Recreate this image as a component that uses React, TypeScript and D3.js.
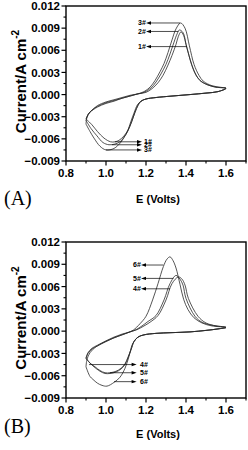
import React from 'react';
import * as d3 from 'd3';

type P = [number, number];

const E_TICKS = [0.8, 1.0, 1.2, 1.4, 1.6];
const E_MINOR = [0.9, 1.1, 1.3, 1.5, 1.7];
const I_TICKS = [-0.009, -0.006, -0.003, 0, 0.003, 0.006, 0.009, 0.012];
const I_MINOR = [-0.0075, -0.0045, -0.0015, 0.0015, 0.0045, 0.0075, 0.0105];

// Panel A
const curveA1: P[] = [
  [0.9, -0.0033], [0.915, -0.0025], [0.935, -0.002], [0.957, -0.0015], [1.0, -0.001], [1.04, -0.0007], [1.08, -0.0004], [1.12, -0.0001], [1.16, 0.0001], [1.2, 0.0003], [1.23, 0.0008], [1.26, 0.0016], [1.285, 0.0026], [1.31, 0.004], [1.33, 0.0053], [1.35, 0.0068], [1.362, 0.0079], [1.375, 0.0085], [1.388, 0.008], [1.4, 0.0068], [1.412, 0.0056], [1.43, 0.0039], [1.45, 0.0026], [1.475, 0.0018], [1.51, 0.0013], [1.55, 0.001], [1.6, 0.00085],
  [1.56, 0.0004], [1.5, 0.0002], [1.42, 0.0], [1.33, -0.0002], [1.25, -0.0004], [1.2, -0.0006], [1.175, -0.0009], [1.16, -0.0015], [1.145, -0.0024], [1.128, -0.0037], [1.11, -0.0048], [1.09, -0.0056], [1.065, -0.0062], [1.045, -0.0064], [1.023, -0.0064], [0.99, -0.0059], [0.957, -0.005], [0.93, -0.0041], [0.9, -0.0033],
];
const curveA2: P[] = [
  [0.9, -0.0035], [0.91, -0.0027], [0.93, -0.0021], [0.957, -0.0016], [1.0, -0.0011], [1.04, -0.0008], [1.08, -0.0005], [1.12, -0.0002], [1.16, 0.0001], [1.19, 0.0003], [1.225, 0.0009], [1.25, 0.0017], [1.275, 0.0028], [1.3, 0.0041], [1.32, 0.0055], [1.34, 0.0071], [1.355, 0.0082], [1.367, 0.00875], [1.385, 0.0084], [1.403, 0.0065], [1.428, 0.0041], [1.45, 0.0027], [1.47, 0.0019], [1.51, 0.0013], [1.55, 0.001], [1.6, 0.00085],
  [1.56, 0.0004], [1.5, 0.0002], [1.42, 0.0], [1.33, -0.0002], [1.25, -0.0004], [1.2, -0.0006], [1.175, -0.0009], [1.16, -0.0014], [1.145, -0.0024], [1.128, -0.0037], [1.11, -0.0049], [1.09, -0.0058], [1.07, -0.0064], [1.045, -0.0067], [1.015, -0.0068], [0.985, -0.0065], [0.955, -0.0056], [0.925, -0.0046], [0.9, -0.0035],
];
const curveA3: P[] = [
  [0.9, -0.004], [0.905, -0.0031], [0.92, -0.0024], [0.957, -0.0017], [1.0, -0.0012], [1.04, -0.0009], [1.08, -0.0005], [1.12, -0.0002], [1.16, 0.0001], [1.19, 0.0004], [1.22, 0.001], [1.245, 0.0019], [1.27, 0.0031], [1.29, 0.0042], [1.31, 0.0057], [1.33, 0.0074], [1.35, 0.0089], [1.373, 0.0097], [1.395, 0.009], [1.417, 0.0066], [1.44, 0.0041], [1.465, 0.0026], [1.487, 0.0018], [1.53, 0.0012], [1.57, 0.001], [1.6, 0.00085],
  [1.56, 0.0004], [1.5, 0.0002], [1.42, 0.0], [1.33, -0.0002], [1.25, -0.0004], [1.2, -0.0006], [1.175, -0.0009], [1.157, -0.0014], [1.14, -0.0025], [1.125, -0.0036], [1.107, -0.005], [1.09, -0.0058], [1.073, -0.0065], [1.04, -0.0073], [1.0, -0.0075], [0.97, -0.007], [0.94, -0.0059], [0.92, -0.005], [0.9, -0.004],
];

// Panel B
const curveB4: P[] = [
  [0.9, -0.0037], [0.91, -0.003], [0.93, -0.0024], [0.957, -0.002], [1.0, -0.0014], [1.04, -0.0009], [1.08, -0.0005], [1.12, -0.0001], [1.155, 0.0002], [1.19, 0.0007], [1.22, 0.0012], [1.26, 0.0021], [1.3, 0.0042], [1.33, 0.0064], [1.362, 0.0073], [1.38, 0.007], [1.395, 0.0062], [1.412, 0.0044], [1.46, 0.002], [1.5, 0.0011], [1.55, 0.0007], [1.6, 0.0005],
  [1.56, 0.0003], [1.5, 0.0001], [1.42, -0.0001], [1.33, -0.0002], [1.25, -0.0003], [1.19, -0.0005], [1.16, -0.0008], [1.14, -0.0014], [1.125, -0.0025], [1.11, -0.0035], [1.095, -0.0044], [1.075, -0.005], [1.05, -0.0054], [1.02, -0.0056], [0.995, -0.0056], [0.97, -0.0053], [0.945, -0.0048], [0.92, -0.0043], [0.9, -0.0037],
];
const curveB5: P[] = [
  [0.9, -0.0036], [0.91, -0.0029], [0.93, -0.0023], [0.957, -0.0019], [1.0, -0.0013], [1.04, -0.0008], [1.08, -0.0004], [1.12, -0.0001], [1.15, 0.0002], [1.18, 0.0007], [1.21, 0.0013], [1.25, 0.0021], [1.29, 0.0042], [1.32, 0.0064], [1.35, 0.0075], [1.37, 0.007], [1.385, 0.0062], [1.4, 0.0044], [1.445, 0.002], [1.48, 0.0012], [1.53, 0.0008], [1.6, 0.0005],
  [1.56, 0.0003], [1.5, 0.0001], [1.42, -0.0001], [1.33, -0.0002], [1.25, -0.0003], [1.19, -0.0005], [1.16, -0.0008], [1.14, -0.0014], [1.125, -0.0025], [1.11, -0.0036], [1.095, -0.0045], [1.075, -0.0051], [1.05, -0.0055], [1.02, -0.0057], [0.995, -0.0057], [0.97, -0.0054], [0.94, -0.0048], [0.92, -0.0043], [0.9, -0.0036],
];
const curveB6: P[] = [
  [0.9, -0.0048], [0.905, -0.0038], [0.92, -0.0029], [0.95, -0.0021], [0.99, -0.0015], [1.04, -0.0009], [1.08, -0.0005], [1.11, -0.0002], [1.137, 0.00015], [1.17, 0.001], [1.2, 0.002], [1.233, 0.0042], [1.26, 0.0064], [1.287, 0.0087], [1.305, 0.0097], [1.32, 0.01], [1.335, 0.0095], [1.35, 0.0085], [1.37, 0.0063], [1.388, 0.0043], [1.41, 0.0029], [1.44, 0.0018], [1.48, 0.0011], [1.53, 0.0007], [1.6, 0.0005],
  [1.56, 0.0003], [1.5, 0.0001], [1.42, -0.0001], [1.33, -0.0002], [1.25, -0.0003], [1.19, -0.0005], [1.16, -0.0008], [1.14, -0.0014], [1.13, -0.0019], [1.115, -0.0034], [1.095, -0.005], [1.07, -0.0062], [1.04, -0.0069], [1.005, -0.0074], [0.98, -0.0073], [0.957, -0.007], [0.935, -0.0065], [0.92, -0.0061], [0.9, -0.0048],
];

type Anno = { label: string; E: number; I: number };
const annoA_up: Anno[] = [
  { label: '3#', E: 1.37, I: 0.0097 },
  { label: '2#', E: 1.362, I: 0.00855 },
  { label: '1#', E: 1.405, I: 0.0065 },
];
const annoA_down: Anno[] = [
  { label: '1#', E: 1.045, I: -0.0064 },
  { label: '2#', E: 1.03, I: -0.0068 },
  { label: '3#', E: 1.0, I: -0.0075 },
];
const annoB_up: Anno[] = [
  { label: '6#', E: 1.287, I: 0.0089 },
  { label: '5#', E: 1.337, I: 0.0071 },
  { label: '4#', E: 1.32, I: 0.0057 },
];
const annoB_down: Anno[] = [
  { label: '4#', E: 0.915, I: -0.0045 },
  { label: '5#', E: 1.02, I: -0.0056 },
  { label: '6#', E: 1.04, I: -0.0068 },
];

const FONT = '"Liberation Sans", Arial, Helvetica, sans-serif';

interface PanelProps {
  top: number;
  bottom: number;
  curves: P[][];
  up: Anno[];
  down: Anno[];
  upText: number;
  upTip: number;
  downTip: number;
  downText: number;
  letter: string;
  letterY: number;
  xTitleY: number;
}

function Panel(p: PanelProps) {
  const x = d3.scaleLinear().domain([0.8, 1.7]).range([66, 246]);
  const y = d3.scaleLinear().domain([-0.009, 0.012]).range([p.bottom, p.top]);
  const line = d3
    .line<P>()
    .x((d) => x(d[0]))
    .y((d) => y(d[1]))
    .curve(d3.curveCatmullRom.alpha(0.5));
  const fmtY = d3.format('.3f');
  const fmtX = d3.format('.1f');
  const x0 = x(0.8);
  const x1 = x(1.7);
  const midY = (p.top + p.bottom) / 2;
  return (
    <g>
      {p.curves.map((c, i) => (
        <path key={i} d={line(c) || ''} fill="none" stroke="#2a2a2a" strokeWidth={0.8} />
      ))}
      <rect x={x0} y={p.top} width={x1 - x0} height={p.bottom - p.top} fill="none" stroke="#000" strokeWidth={1.4} />
      {I_TICKS.map((t) => (
        <g key={'yt' + t}>
          <line x1={x0 - 4.5} x2={x0} y1={y(t)} y2={y(t)} stroke="#000" strokeWidth={1.2} />
          <text x={x0 - 6} y={y(t)} dy="0.36em" textAnchor="end" fontFamily={FONT} fontWeight="bold" fontSize={11.5}>
            {fmtY(t)}
          </text>
        </g>
      ))}
      {I_MINOR.map((t) => (
        <line key={'ym' + t} x1={x0 - 2.5} x2={x0} y1={y(t)} y2={y(t)} stroke="#000" strokeWidth={1.1} />
      ))}
      {E_TICKS.map((t) => (
        <g key={'xt' + t}>
          <line x1={x(t)} x2={x(t)} y1={p.bottom} y2={p.bottom + 4.5} stroke="#000" strokeWidth={1.2} />
          <text x={x(t)} y={p.bottom + 16} textAnchor="middle" fontFamily={FONT} fontWeight="bold" fontSize={11.5}>
            {fmtX(t)}
          </text>
        </g>
      ))}
      {E_MINOR.map((t) => (
        <line key={'xm' + t} x1={x(t)} x2={x(t)} y1={p.bottom} y2={p.bottom + 2.5} stroke="#000" strokeWidth={1.1} />
      ))}
      <text x={158} y={p.xTitleY} textAnchor="middle" fontFamily={FONT} fontWeight="bold" fontSize={11}>
        E (Volts)
      </text>
      <text transform={`translate(26,${midY - 2}) rotate(-90)`} textAnchor="middle" fontFamily={FONT} fontWeight="bold" fontSize={15}>
        Current/A cm
        <tspan fontSize={10} dy={-7}>-2</tspan>
      </text>
      <text x={4} y={p.letterY} fontFamily='"Liberation Serif", "Times New Roman", serif' fontSize={20}>
        {p.letter}
      </text>
      {p.up.map((a) => {
        const yy = y(a.I);
        const tx = x(p.upTip);
        return (
          <g key={'u' + a.label}>
            <line x1={tx + 3} x2={x(a.E)} y1={yy} y2={yy} stroke="#000" strokeWidth={0.7} />
            <path d={`M${tx},${yy}L${tx + 5},${yy - 1.7}L${tx + 5},${yy + 1.7}Z`} fill="#000" />
            <text x={x(p.upText)} y={yy} dy="0.35em" fontFamily={FONT} fontWeight="bold" fontSize={7}>
              {a.label}
            </text>
          </g>
        );
      })}
      {p.down.map((a) => {
        const yy = y(a.I);
        const tx = x(p.downTip);
        return (
          <g key={'d' + a.label}>
            <line x1={x(a.E)} x2={tx - 3} y1={yy} y2={yy} stroke="#000" strokeWidth={0.7} />
            <path d={`M${tx},${yy}L${tx - 5},${yy - 1.7}L${tx - 5},${yy + 1.7}Z`} fill="#000" />
            <text x={x(p.downText)} y={yy} dy="0.35em" fontFamily={FONT} fontWeight="bold" fontSize={7}>
              {a.label}
            </text>
          </g>
        );
      })}
    </g>
  );
}

export default function App() {
  return (
    <svg width={248} height={450} style={{ position: 'absolute', left: 0, top: 0, background: '#fff' }}>
      <Panel
        top={6}
        bottom={161}
        curves={[curveA1, curveA2, curveA3]}
        up={annoA_up}
        down={annoA_down}
        upText={1.16}
        upTip={1.2}
        downTip={1.18}
        downText={1.19}
        letter="(A)"
        letterY={205}
        xTitleY={203}
      />
      <Panel
        top={242}
        bottom={398}
        curves={[curveB4, curveB5, curveB6]}
        up={annoB_up}
        down={annoB_down}
        upText={1.135}
        upTip={1.175}
        downTip={1.153}
        downText={1.17}
        letter="(B)"
        letterY={433}
        xTitleY={438}
      />
    </svg>
  );
}
